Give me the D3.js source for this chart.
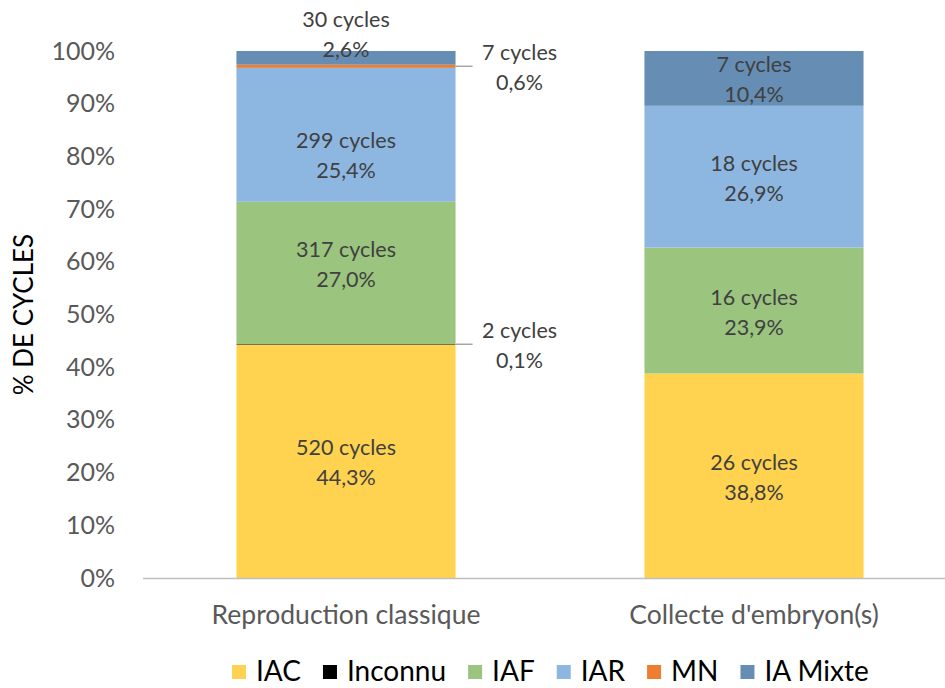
<!DOCTYPE html>
<html>
<head>
<meta charset="utf-8">
<script src="https://cdn.jsdelivr.net/npm/d3@7"></script>
<style>
  body { margin: 0; background: #fff; }
  svg { font-family: Lato, "Open Sans", sans-serif; }
</style>
</head>
<body>
<svg width="945" height="688"></svg>
<script>
const categories = ['Reproduction classique', "Collecte d'embryon(s)"],
      seriesNames = ['IAC', 'Inconnu', 'IAF', 'IAR', 'MN', 'IA Mixte'],
      seriesColors = ['#ffd34f', '#000000', '#9bc47f', '#8db7e0', '#ed7d31', '#668db4'],
      cycles = [[520, 26], [2, 0], [317, 16], [299, 18], [7, 0], [30, 7]],
      percents = [[44.3, 38.8], [0.1, 0], [27.0, 23.9], [25.4, 26.9], [0.6, 0], [2.6, 10.4]],
      yTicks = [0, 10, 20, 30, 40, 50, 60, 70, 80, 90, 100];

const width = 945,
      height = 688,
      svg = d3.select('svg');

const table = categories.map((c, i) => {
  const row = {category: c};
  seriesNames.forEach((s, j) => { row[s] = percents[j][i]; });
  return row;
});

const stacked = d3.stack().keys(seriesNames)(table);

const xScale = d3.scaleBand()
                 .domain(categories)
                 .range([142, 958])
                 .paddingInner(0.463)
                 .paddingOuter(0.2315),
      yScale = d3.scaleLinear()
                 .domain([0, 100])
                 .range([578, 51]),
      color = d3.scaleOrdinal().domain(seriesNames).range(seriesColors);

// y axis labels (no axis line)
const yAxis = d3.axisLeft(yScale)
                .tickValues(yTicks)
                .tickFormat((d) => d + '%')
                .tickSize(0)
                .tickPadding(0);

svg.append('g')
    .attr('transform', 'translate(115, 0)')
    .call(yAxis)
    .call((g) => g.select('.domain').remove())
    .selectAll('text')
      .attr('fill', '#595959')
      .style('font-size', '25px')
      .style('font-family', 'Lato, sans-serif');

// bars
svg.append('g')
  .selectAll('g')
  .data(stacked)
  .enter()
  .append('g')
    .attr('fill', (d) => color(d.key))
  .selectAll('rect')
  .data((d) => d)
  .enter()
  .append('rect')
    .attr('x', (d) => xScale(d.data.category))
    .attr('width', xScale.bandwidth())
    .attr('y', (d) => yScale(d[1]))
    .attr('height', (d) => yScale(d[0]) - yScale(d[1]));

// baseline
svg.append('line')
    .attr('x1', 143)
    .attr('x2', width)
    .attr('y1', yScale(0) + 0.5)
    .attr('y2', yScale(0) + 0.5)
    .attr('stroke', '#bfbfbf')
    .attr('stroke-width', 1.5);

// x axis labels
const xAxis = d3.axisBottom(xScale).tickSize(0).tickPadding(0);
svg.append('g')
    .attr('transform', `translate(0, ${yScale(0) + 37})`)
    .call(xAxis)
    .call((g) => g.select('.domain').remove())
    .selectAll('text')
      .attr('fill', '#595959')
      .attr('dy', '0.35em')
      .style('font-size', '26.5px')
      .style('font-family', 'Lato, sans-serif');

// data labels (a few were dragged by hand in the original)
const labelNudge = {'IAR|Reproduction classique': 19, 'IAF|Reproduction classique': -10};

const labels = svg.append('g')
    .style('font-size', '21.5px')
    .attr('fill', '#404040')
    .attr('text-anchor', 'middle');

stacked.forEach((layer, j) => {
  layer.forEach((d, i) => {
    const pct = percents[j][i];
    if (!pct) return;
    const x0 = xScale(d.data.category),
          bw = xScale.bandwidth(),
          top = yScale(d[1]),
          bottom = yScale(d[0]),
          mid = (top + bottom) / 2;
    let cx = x0 + bw / 2,
        cy = mid + 1.5 + (labelNudge[layer.key + '|' + d.data.category] || 0);
    if (pct < 1) {
      // small slice: label to the right with a leader line
      labels.append('line')
          .attr('x1', x0 + bw)
          .attr('x2', x0 + bw + 17)
          .attr('y1', mid)
          .attr('y2', mid)
          .attr('stroke', '#a6a6a6')
          .attr('stroke-width', 1.5);
      cx = x0 + bw + 64;
      cy = mid + 1.5;
    } else if (pct < 5 && d[1] >= 99.9) {
      cy = yScale(100) - 16.5;
    }
    labels.append('text')
        .attr('x', cx)
        .attr('y', cy - 15)
        .attr('dy', '0.35em')
        .text(cycles[j][i] + ' cycles');
    labels.append('text')
        .attr('x', cx)
        .attr('y', cy + 15)
        .attr('dy', '0.35em')
        .text(d3.format('.1f')(pct).replace('.', ',') + '%');
  });
});

// y axis title
svg.append('text')
    .text('% DE CYCLES')
    .attr('transform', `translate(33, ${(yScale(0) + yScale(100)) / 2}) rotate(-90)`)
    .attr('text-anchor', 'middle')
    .attr('fill', '#000')
    .style('font-size', '26px');

// legend
const legend = svg.append('g')
    .attr('transform', 'translate(232, 671)')
    .style('font-size', '28px');

let lx = 0;
seriesNames.forEach((s, j) => {
  legend.append('rect')
      .attr('x', lx)
      .attr('y', -6)
      .attr('width', 14)
      .attr('height', 14)
      .attr('fill', seriesColors[j]);
  const t = legend.append('text')
      .attr('x', lx + 24)
      .attr('y', 0)
      .attr('dy', '0.36em')
      .attr('fill', '#000')
      .text(s);
  lx += 24 + t.node().getComputedTextLength() + 22;
});
</script>
</body>
</html>
